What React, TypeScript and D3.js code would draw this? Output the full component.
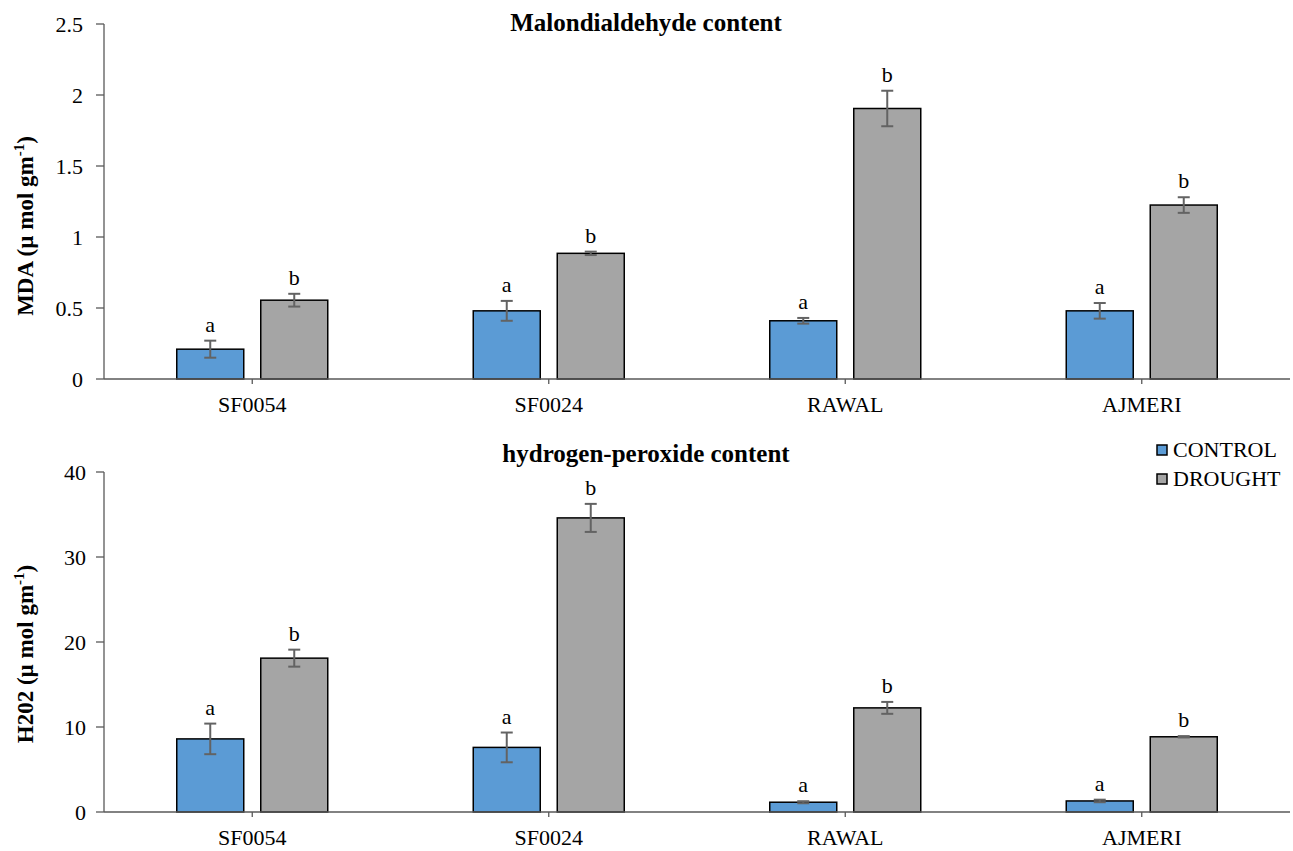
import React from 'react';
import * as d3 from 'd3';

const categories = ['SF0054', 'SF0024', 'RAWAL', 'AJMERI'];
const series = ['CONTROL', 'DROUGHT'];
const colors = ['#5B9BD5', '#A5A5A5'];

const mdaControl = [0.21, 0.48, 0.41, 0.48];
const mdaDrought = [0.555, 0.885, 1.905, 1.225];
const mdaControlErr = [0.06, 0.07, 0.02, 0.055];
const mdaDroughtErr = [0.045, 0.012, 0.125, 0.055];
const mdaTicks = [0, 0.5, 1, 1.5, 2, 2.5];

const h2o2Control = [8.6, 7.6, 1.15, 1.3];
const h2o2Drought = [18.1, 34.6, 12.25, 8.85];
const h2o2ControlErr = [1.8, 1.75, 0.12, 0.15];
const h2o2DroughtErr = [1.0, 1.65, 0.7, 0.08];
const h2o2Ticks = [0, 10, 20, 30, 40];

const letters = ['a', 'b'];

const FONT = '"Liberation Serif", "Times New Roman", serif';

type PanelProps = {
  title: string;
  yLabel: string;
  values: number[][];
  errors: number[][];
  ticks: number[];
  top: number;
  bottom: number;
  titleY: number;
  labelCenter: number;
  tickRight: number;
};

const x0 = d3.scaleBand<string>().domain(categories).range([104, 1290]);

const Panel = ({ title, yLabel, values, errors, ticks, top, bottom, titleY, labelCenter, tickRight }: PanelProps) => {
  const y = d3.scaleLinear().domain([0, ticks[ticks.length - 1]]).range([bottom, top]);
  const bw = x0.bandwidth();
  const barW = 67;
  const gap = 17;
  const barX = (ci: number, si: number) =>
    (x0(categories[ci]) as number) + bw / 2 + (si === 0 ? -gap / 2 - barW : gap / 2);

  return (
    <g fontFamily={FONT}>
      <text x={646} y={titleY} textAnchor="middle" fontWeight="bold" fontSize={25}>{title}</text>
      {ticks.map(t => (
        <g key={t}>
          <line x1={96} x2={104} y1={y(t)} y2={y(t)} stroke="#595959" strokeWidth={1.3} />
          <text x={tickRight} y={y(t)} dy="0.35em" textAnchor="end" fontSize={22}>{t}</text>
        </g>
      ))}
      <line x1={104} x2={104} y1={top} y2={bottom} stroke="#595959" strokeWidth={1.3} />
      <text
        transform={`translate(33,${labelCenter}) rotate(-90)`}
        textAnchor="middle"
        fontWeight="bold"
        fontSize={23}
      >
        {yLabel}
        <tspan dy={-9} fontSize={15}>-1</tspan>
        <tspan dy={9}>)</tspan>
      </text>
      {values.map((vals, si) =>
        vals.map((v, ci) => {
          const bx = barX(ci, si);
          const e = errors[si][ci];
          const cx = bx + barW / 2;
          return (
            <g key={`${si}-${ci}`}>
              <rect x={bx} y={y(v)} width={barW} height={bottom - y(v)} fill={colors[si]} stroke="#000" strokeWidth={1.5} />
              <line x1={cx} x2={cx} y1={y(v + e)} y2={y(v - e)} stroke="#636363" strokeWidth={2} />
              <line x1={cx - 6} x2={cx + 6} y1={y(v + e)} y2={y(v + e)} stroke="#636363" strokeWidth={2} />
              <line x1={cx - 6} x2={cx + 6} y1={y(v - e)} y2={y(v - e)} stroke="#636363" strokeWidth={2} />
              <text x={cx} y={y(v + e) - 9} textAnchor="middle" fontSize={22}>{letters[si]}</text>
            </g>
          );
        })
      )}
      <line x1={104} x2={1290} y1={bottom} y2={bottom} stroke="#595959" strokeWidth={1.3} />
      {categories.map(c => {
        const cx = (x0(c) as number) + bw / 2;
        return (
          <g key={c}>
            <line x1={cx} x2={cx} y1={bottom} y2={bottom + 5} stroke="#595959" strokeWidth={1.3} />
            <text x={cx} y={bottom + 33} textAnchor="middle" fontSize={22}>{c}</text>
          </g>
        );
      })}
    </g>
  );
};

const App = () => (
  <svg width={1293} height={851} style={{ position: 'absolute', left: 0, top: 0, background: '#fff' }}>
    <rect width={1293} height={851} fill="#fff" />
    <Panel
      title="Malondialdehyde content"
      yLabel="MDA (µ mol gm"
      values={[mdaControl, mdaDrought]}
      errors={[mdaControlErr, mdaDroughtErr]}
      ticks={mdaTicks}
      top={24}
      bottom={379}
      titleY={31}
      labelCenter={226}
      tickRight={83}
    />
    <Panel
      title="hydrogen-peroxide content"
      yLabel="H202 (µ mol gm"
      values={[h2o2Control, h2o2Drought]}
      errors={[h2o2ControlErr, h2o2DroughtErr]}
      ticks={h2o2Ticks}
      top={472}
      bottom={812}
      titleY={462}
      labelCenter={654}
      tickRight={86}
    />
    <g fontFamily={FONT} fontSize={22}>
      {series.map((s, i) => (
        <g key={s} transform={`translate(1157,${445 + i * 29})`}>
          <rect x={0} y={0} width={10} height={10} fill={colors[i]} stroke="#000" strokeWidth={1.5} />
          <text x={16} y={12}>{s}</text>
        </g>
      ))}
    </g>
  </svg>
);

export default App;
